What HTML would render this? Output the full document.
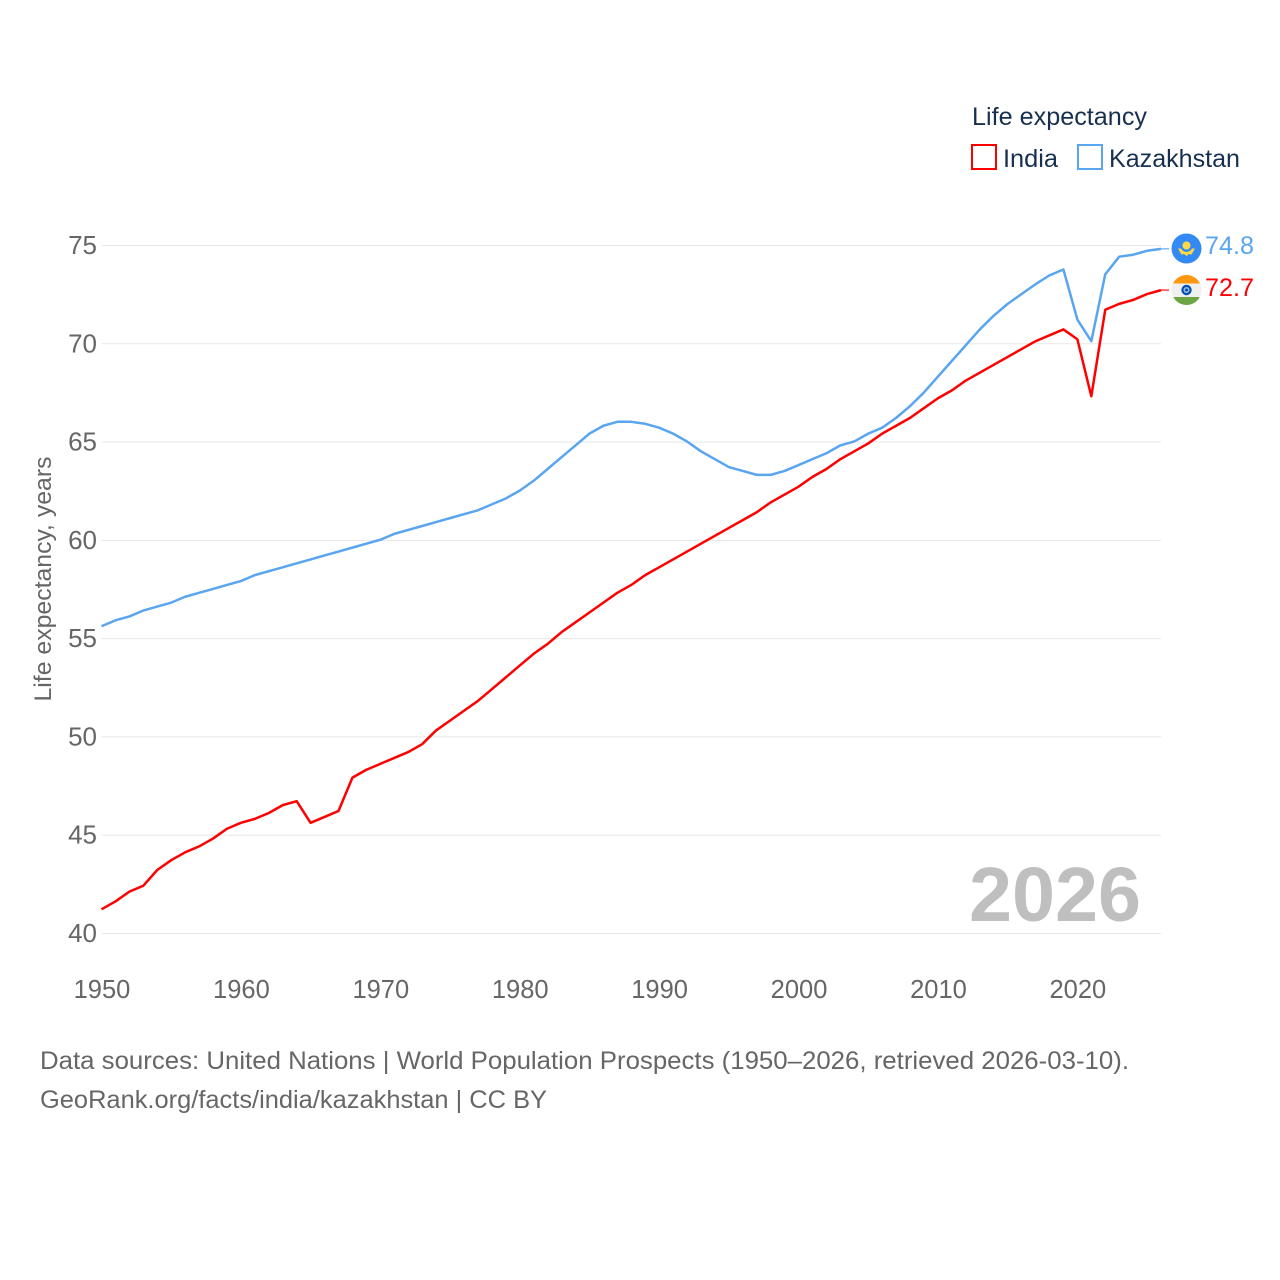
<!DOCTYPE html>
<html lang="en">
<head>
<meta charset="utf-8">
<title>Life expectancy: India and Kazakhstan</title>
<style>
html,body{margin:0;padding:0;background:#fff;width:1280px;height:1280px;overflow:hidden}
svg{display:block}
text{font-family:"Liberation Sans",sans-serif}
</style>
</head>
<body>
<svg id="chart" xmlns="http://www.w3.org/2000/svg" width="1280" height="1280" viewBox="0 0 1280 1280">
  <g id="grid"></g>
  <g id="yticks"></g>
  <g id="xticks"></g>
  <text transform="translate(51,579) rotate(-90)" text-anchor="middle" font-size="24" fill="#666" textLength="245" lengthAdjust="spacingAndGlyphs">Life expectancy, years</text>
  <text x="969" y="921" font-size="77" font-weight="700" fill="#bfbfbf" textLength="172" lengthAdjust="spacingAndGlyphs">2026</text>
  <g id="series" transform="translate(0,-0.6)"></g>

  <text x="972" y="125" font-size="25" fill="#18304f" textLength="175" lengthAdjust="spacingAndGlyphs">Life expectancy</text>
  <rect x="972" y="145" width="24" height="24" fill="none" stroke="#ff0000" stroke-width="2"/>
  <text x="1003" y="167" font-size="25" fill="#18304f" textLength="55" lengthAdjust="spacingAndGlyphs">India</text>
  <rect x="1078" y="145" width="24" height="24" fill="none" stroke="#5aa5f0" stroke-width="2"/>
  <text x="1109" y="167" font-size="25" fill="#18304f" textLength="131" lengthAdjust="spacingAndGlyphs">Kazakhstan</text>

  <defs>
    <clipPath id="india-clip"><circle cx="1186.5" cy="290" r="15"/></clipPath>
  </defs>
  <g>
    <circle cx="1186.5" cy="248.5" r="15" fill="#338af3"/>
    <circle cx="1186.5" cy="245.5" r="4" fill="#ffda44"/>
    <path d="M1178 248.5 L1181 248.5 Q1183 252 1186.5 252 Q1190 252 1192 248.5 L1195 248.5 L1191.5 254.5 L1189 254 L1186.5 256 L1184 254 L1181.5 254.5 Z" fill="#ffda44"/>
  </g>
  <g clip-path="url(#india-clip)">
    <rect x="1171" y="275" width="31" height="8.5" fill="#ff9811"/>
    <rect x="1171" y="283.5" width="31" height="13.5" fill="#f0f0f0"/>
    <rect x="1171" y="297" width="31" height="8" fill="#6da544"/>
    <circle cx="1186.5" cy="290" r="5.2" fill="#0052b4"/>
    <circle cx="1186.5" cy="290" r="3" fill="#9fb9dc"/>
    <circle cx="1186.5" cy="290" r="1.5" fill="#0052b4"/>
  </g>
  <text x="1205" y="254" font-size="25" fill="#5aa5f0" textLength="49" lengthAdjust="spacingAndGlyphs">74.8</text>
  <text x="1205" y="296" font-size="25" fill="#ff0000" textLength="49" lengthAdjust="spacingAndGlyphs">72.7</text>

  <text x="40" y="1069" font-size="25" fill="#666" textLength="1089" lengthAdjust="spacingAndGlyphs">Data sources: United Nations | World Population Prospects (1950–2026, retrieved 2026-03-10).</text>
  <text x="40" y="1108" font-size="25" fill="#666" textLength="507" lengthAdjust="spacingAndGlyphs">GeoRank.org/facts/india/kazakhstan | CC BY</text>
</svg>
<script>
const years = [1950,1951,1952,1953,1954,1955,1956,1957,1958,1959,1960,1961,1962,1963,1964,1965,1966,1967,1968,1969,1970,1971,1972,1973,1974,1975,1976,1977,1978,1979,1980,1981,1982,1983,1984,1985,1986,1987,1988,1989,1990,1991,1992,1993,1994,1995,1996,1997,1998,1999,2000,2001,2002,2003,2004,2005,2006,2007,2008,2009,2010,2011,2012,2013,2014,2015,2016,2017,2018,2019,2020,2021,2022,2023,2024,2025,2026];
const indiaValues = [41.2,41.6,42.1,42.4,43.2,43.7,44.1,44.4,44.8,45.3,45.6,45.8,46.1,46.5,46.7,45.6,45.9,46.2,47.9,48.3,48.6,48.9,49.2,49.6,50.3,50.8,51.3,51.8,52.4,53.0,53.6,54.2,54.7,55.3,55.8,56.3,56.8,57.3,57.7,58.2,58.6,59.0,59.4,59.8,60.2,60.6,61.0,61.4,61.9,62.3,62.7,63.2,63.6,64.1,64.5,64.9,65.4,65.8,66.2,66.7,67.2,67.6,68.1,68.5,68.9,69.3,69.7,70.1,70.4,70.7,70.2,67.3,71.7,72.0,72.2,72.5,72.7];
const kazakhstanValues = [55.6,55.9,56.1,56.4,56.6,56.8,57.1,57.3,57.5,57.7,57.9,58.2,58.4,58.6,58.8,59.0,59.2,59.4,59.6,59.8,60.0,60.3,60.5,60.7,60.9,61.1,61.3,61.5,61.8,62.1,62.5,63.0,63.6,64.2,64.8,65.4,65.8,66.0,66.0,65.9,65.7,65.4,65.0,64.5,64.1,63.7,63.5,63.3,63.3,63.5,63.8,64.1,64.4,64.8,65.0,65.4,65.7,66.2,66.8,67.5,68.3,69.1,69.9,70.7,71.4,72.0,72.5,73.0,73.45,73.75,71.2,70.1,73.5,74.4,74.5,74.7,74.8];
const yTickValues = [40,45,50,55,60,65,70,75];
const xTickValues = [1950,1960,1970,1980,1990,2000,2010,2020];

const SVG_NS = 'http://www.w3.org/2000/svg';
function xScale(year){ return 101.5 + (year - 1950) * (1161 - 101.5) / 76; }
function yScale(value){ return 933.5 - (value - 40) * (933.5 - 245.5) / 35; }

const gridGroup = document.getElementById('grid');
const yTickGroup = document.getElementById('yticks');
const xTickGroup = document.getElementById('xticks');
const seriesGroup = document.getElementById('series');

yTickValues.forEach(function(v){
  const line = document.createElementNS(SVG_NS, 'line');
  
  
  line.setAttribute('x1', xScale(1950));
  line.setAttribute('x2', xScale(2026));
  line.setAttribute('y1', yScale(v));
  line.setAttribute('y2', yScale(v));
  line.setAttribute('stroke', '#e7e7e7');
  line.setAttribute('stroke-width', '1');
  gridGroup.appendChild(line);

  const label = document.createElementNS(SVG_NS, 'text');
  
  
  label.setAttribute('x', 97);
  label.setAttribute('y', yScale(v) + 8.5);
  label.setAttribute('text-anchor', 'end');
  label.setAttribute('font-size', '26');
  label.setAttribute('fill', '#666');
  label.textContent = String(v);
  yTickGroup.appendChild(label);
});

xTickValues.forEach(function(t){
  const label = document.createElementNS(SVG_NS, 'text');
  
  
  label.setAttribute('x', xScale(t) + 0.5);
  label.setAttribute('y', 998);
  label.setAttribute('text-anchor', 'middle');
  label.setAttribute('font-size', '25.5');
  label.setAttribute('fill', '#666');
  label.textContent = String(t);
  xTickGroup.appendChild(label);
});

function drawSeries(values, color, name){
  const points = values.map(function(v, i){
    return xScale(years[i]).toFixed(2) + ',' + yScale(v).toFixed(2);
  });
  const path = document.createElementNS(SVG_NS, 'path');
  
  
  path.setAttribute('d', 'M' + points.join('L'));
  path.setAttribute('fill', 'none');
  path.setAttribute('stroke', color);
  path.setAttribute('stroke-width', '2.5');
  path.setAttribute('stroke-linejoin', 'round');
  seriesGroup.appendChild(path);

  const lastY = yScale(values[values.length - 1]);
  const connector = document.createElementNS(SVG_NS, 'line');
  
  
  connector.setAttribute('x1', xScale(2026));
  connector.setAttribute('x2', 1169);
  connector.setAttribute('y1', lastY);
  connector.setAttribute('y2', lastY);
  connector.setAttribute('stroke', color);
  connector.setAttribute('stroke-width', '1.5');
  connector.setAttribute('stroke-opacity', '0.75');
  seriesGroup.appendChild(connector);
}

drawSeries(indiaValues, '#ff0000', 'india-line');
drawSeries(kazakhstanValues, '#5aa5f0', 'kazakhstan-line');
</script>
</body>
</html>
